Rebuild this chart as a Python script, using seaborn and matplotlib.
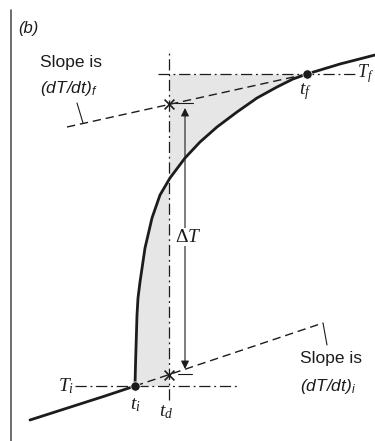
import matplotlib
matplotlib.use("Agg")
import matplotlib.pyplot as plt
import seaborn as sns
import pandas as pd

# heating curve (time t, temperature T, arbitrary units)
t_curve = [30, 55, 80, 105, 120, 135, 135.5, 136, 137, 138, 140, 145, 152,
           160, 170, 185, 200, 217, 237, 257, 277, 293, 307, 340, 375]
T_curve = [21, 29, 37, 45, 50, 55, 76, 93, 126, 143, 159, 193, 223,
           246, 263, 283, 299, 314, 329, 343, 354, 362, 367, 377, 386]

t_i, T_i = 135, 55
t_f, T_f = 307, 367
t_d = 169

# tangent lines (start, end) at t_f and t_i
tan_f_t = [67, 307]
tan_f_T = [314, 367]
tan_i_t = [135, 323]
tan_i_T = [55, 118]

# points where the tangents cross t = t_d
cross_t = [169, 169]
cross_T = [66, 337]

sns.set_theme(style="white")
plt.rcParams["font.family"] = ["Liberation Sans", "DejaVu Sans"]
plt.rcParams["mathtext.fontset"] = "custom"
plt.rcParams["mathtext.rm"] = "Liberation Serif"
plt.rcParams["mathtext.it"] = "Liberation Serif:italic"
plt.rcParams["mathtext.sf"] = "Liberation Sans:italic"

ink = "#1c1c1c"
fig = plt.figure(figsize=(3.75, 4.41), dpi=100)
ax = fig.add_axes([0, 0, 1, 1])
ax.set_xlim(0, 375)
ax.set_ylim(0, 441)
ax.axis("off")

# shaded area between curve and t = t_d
i0 = t_curve.index(t_i)
i1 = t_curve.index(t_f)
ax.fill_betweenx(T_curve[i0:i1 + 1], t_curve[i0:i1 + 1], t_d,
                 color="#e6e6e6", lw=0, zorder=0)

# reference lines (dash-dot)
dd = (0, (9, 3, 1.5, 3))
ax.plot([158, 355], [T_f, T_f], color=ink, lw=0.9, ls=dd)
ax.plot([75, 237], [T_i, T_i], color=ink, lw=0.9, ls=dd)
ax.plot([t_d, t_d], [41, 391], color=ink, lw=0.9, ls=dd)

# tangents
ax.plot(tan_f_t, tan_f_T, color=ink, lw=1.0, ls=(0, (6, 3.5)))
ax.plot(tan_i_t, tan_i_T, color=ink, lw=1.0, ls=(0, (6, 3.5)))
ax.plot([77, 83], [338, 318], color=ink, lw=0.8)
ax.plot([323, 327], [118, 96], color=ink, lw=0.8)

# the curve
df = pd.DataFrame({"t": t_curve, "T": T_curve})
sns.lineplot(data=df, x="t", y="T", sort=False, estimator=None,
             color=ink, lw=2.0, ax=ax)

sns.scatterplot(x=[t_i, t_f], y=[T_i, T_f], color=ink, s=45, zorder=5, ax=ax)
sns.scatterplot(x=cross_t, y=cross_T, marker="x", color=ink, s=50,
                linewidth=1.2, zorder=5, ax=ax)

# Delta T arrow
ax.annotate("", xy=(185, 333), xytext=(185, 72),
            arrowprops=dict(arrowstyle="<|-|>", color=ink, lw=0.8,
                            mutation_scale=12, shrinkA=0, shrinkB=0))
ax.plot([175, 193], [338, 338], color=ink, lw=0.8)
ax.plot([178, 192], [67, 67], color=ink, lw=0.8)
ax.text(188, 204, r"$\Delta T$", fontsize=14, color=ink, ha="center",
        va="center", bbox=dict(fc="white", ec="none", pad=0.5))

# frame line on the left
ax.plot([11, 11], [0, 431], color="#555555", lw=1.2)

# labels
ax.text(18, 413, "(b)", fontsize=12, style="italic", color=ink, va="center")
ax.text(40, 378, "Slope is", fontsize=12.5, color=ink, va="center")
ax.text(40, 352, r"$\mathsf{(dT/dt)_f}$", fontsize=12.5, color=ink, va="center")
ax.text(300, 83, "Slope is", fontsize=12.5, color=ink, va="center")
ax.text(300, 54, r"$\mathsf{(dT/dt)_i}$", fontsize=12.5, color=ink, va="center")
ax.text(305, 349, r"$t_f$", fontsize=14, color=ink, ha="center", va="center")
ax.text(357, T_f, r"$T_f$", fontsize=13, color=ink, ha="left", va="center")
ax.text(74, T_i, r"$T_i$", fontsize=14, color=ink, ha="right", va="center")
ax.text(t_i, 36, r"$t_i$", fontsize=14, color=ink, ha="center", va="center")
ax.text(166, 29, r"$t_d$", fontsize=14, color=ink, ha="center", va="center")

fig.savefig("out.png", dpi=100)
